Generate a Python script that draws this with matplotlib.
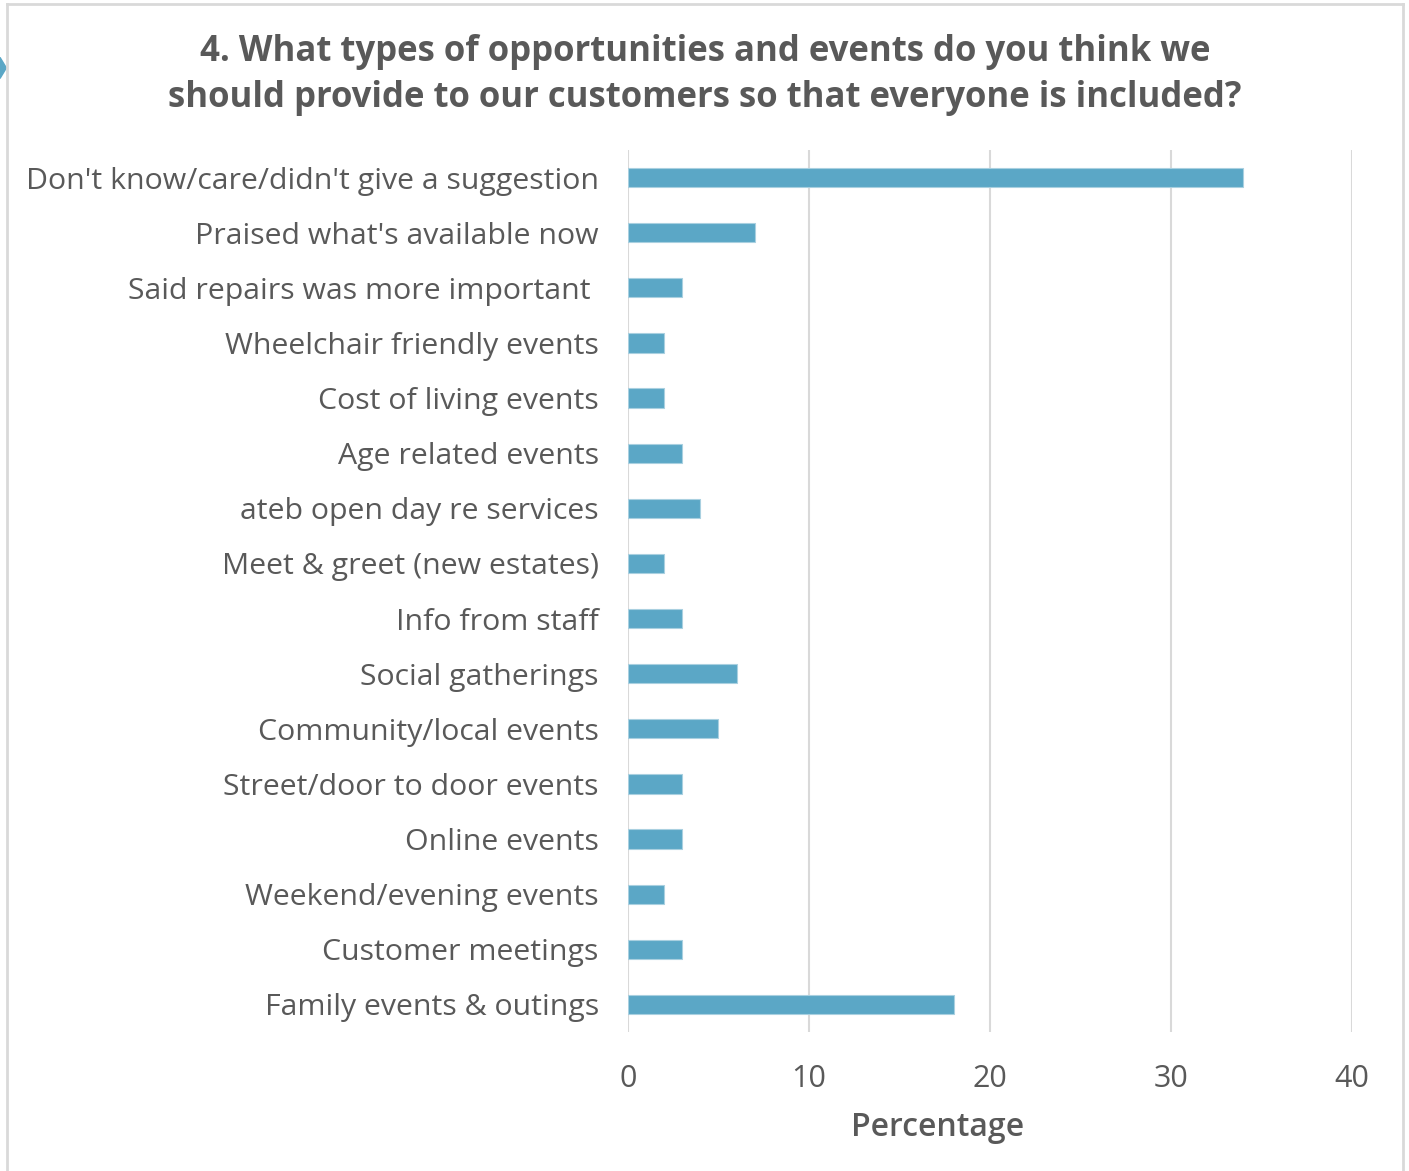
import numpy as np
import matplotlib.pyplot as plt
from matplotlib.patches import Polygon
from matplotlib.lines import Line2D

# survey answers, top to bottom
categories = [
    "Don't know/care/didn't give a suggestion",
    "Praised what's available now",
    "Said repairs was more important ",
    "Wheelchair friendly events",
    "Cost of living events",
    "Age related events",
    "ateb open day re services",
    "Meet & greet (new estates)",
    "Info from staff",
    "Social gatherings",
    "Community/local events",
    "Street/door to door events",
    "Online events",
    "Weekend/evening events",
    "Customer meetings",
    "Family events & outings",
]
percent = [34, 7, 3, 2, 2, 3, 4, 2, 3, 6, 5, 3, 3, 2, 3, 18]
xticks = [0, 10, 20, 30, 40]

text_col = '#595959'
bar_col = '#5BA7C6'

plt.rcParams['font.family'] = ['Open Sans', 'DejaVu Sans']

fig = plt.figure(figsize=(14.09, 11.71), dpi=100)
ax = fig.add_axes([0.4457, 0.1187, 0.5138, 0.7532])

y = np.arange(len(categories))
ax.barh(y, percent, height=0.35, color=bar_col, edgecolor='#A9D0E0', linewidth=0.8, zorder=3)

ax.set_ylim(len(categories) - 0.5, -0.5)
ax.set_xlim(0, 40)
ax.set_yticks(y)
ax.set_yticklabels(categories, fontsize=21.8, color=text_col)
ax.set_xticks(xticks)
ax.set_xticklabels([str(t) for t in xticks], fontsize=22, color=text_col)
ax.tick_params(length=0)
ax.tick_params(axis='y', pad=21)
ax.tick_params(axis='x', pad=23)
ax.grid(axis='x', color='#D9D9D9', linewidth=1.5, zorder=0)
for s in ax.spines.values():
    s.set_visible(False)

fig.text(938 / 1409, 1 - 1128 / 1171, 'Percentage', ha='center', va='center',
         fontsize=23, color=text_col, fontweight='semibold')

fig.text(705 / 1409, 1 - 75 / 1171, "4. What types of opportunities and events do you think we\n"
         "should provide to our customers so that everyone is included?",
         ha='center', va='center', fontsize=25, fontweight='bold', color=text_col,
         linespacing=1.4)

# frame around the chart area
fig.add_artist(Line2D([0.005, 0.005], [0.0, 0.9966], color='#D9D9D9', linewidth=2))
fig.add_artist(Line2D([0.005, 0.9957], [0.9966, 0.9966], color='#D9D9D9', linewidth=2))
fig.add_artist(Line2D([0.9957, 0.9957], [0.0, 0.9966], color='#D9D9D9', linewidth=2))

# small marker on the left edge
fig.add_artist(Polygon([[0.0, 0.951], [0.0045, 0.942], [0.0, 0.933]], closed=True,
                       color='#5BA7C6', transform=fig.transFigure))

fig.savefig('out.png', dpi=100)
